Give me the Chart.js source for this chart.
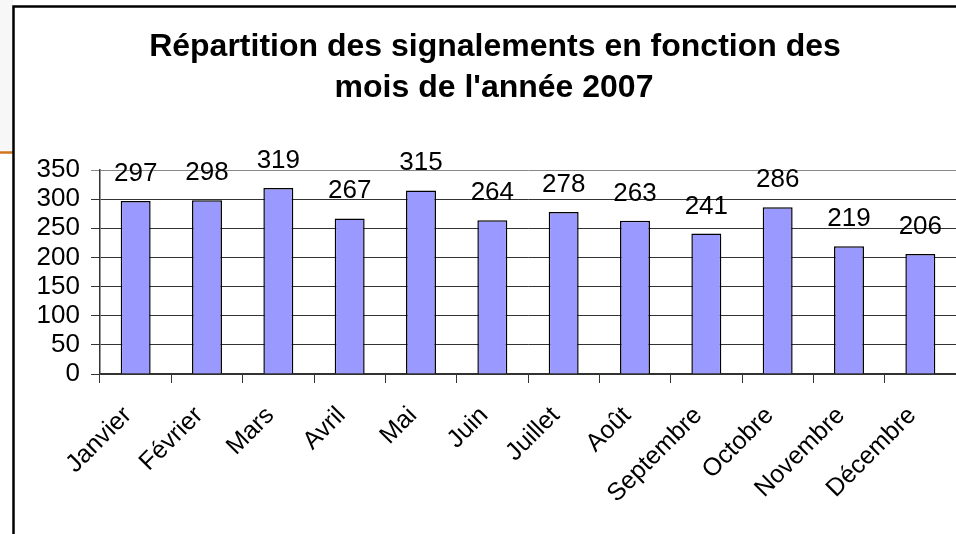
<!DOCTYPE html>
<html>
<head>
<meta charset="utf-8">
<script src="https://cdn.jsdelivr.net/npm/chart.js@4/dist/chart.umd.min.js"></script>
<style>
  html, body { margin: 0; padding: 0; background: #fff; }
  canvas { display: block; }
</style>
</head>
<body>
<canvas id="signalements" width="956" height="534"></canvas>
<script>
const MOIS = ['Janvier', 'Février', 'Mars', 'Avril', 'Mai', 'Juin', 'Juillet',
    'Août', 'Septembre', 'Octobre', 'Novembre', 'Décembre'];
const SIGNALEMENTS = [297, 298, 319, 267, 315, 264, 278, 263, 241, 286, 219, 206];
const TITRE = ['Répartition des signalements en fonction des', "mois de l'année 2007"];
const Y_MAX = 350;
const Y_STEP = 50;

const POLICE = '"Liberation Sans", Arial, sans-serif';
Chart.defaults.font.family = POLICE;
Chart.defaults.color = '#000';

// cadre de la diapo + titre (décalé comme dans Excel)
var cadre = {
    id: 'cadre',
    beforeDraw: function (chart) {
        const c = chart.ctx;
        c.save();
        c.fillStyle = '#fff';
        c.fillRect(0, 0, chart.width, chart.height);
        c.fillStyle = '#f7f7f7';
        c.fillRect(0, 0, 13, 152);
        c.strokeStyle = '#d0741e';
        c.lineWidth = 2.5;
        c.beginPath();
        c.moveTo(0, 152.5);
        c.lineTo(13, 152.5);
        c.stroke();
        c.strokeStyle = '#000';
        c.lineWidth = 2.5;
        c.beginPath();
        c.moveTo(13.5, chart.height);
        c.lineTo(13.5, 6.5);
        c.lineTo(chart.width, 6.5);
        c.stroke();

        c.fillStyle = '#000';
        c.font = 'bold 32px ' + POLICE;
        c.textAlign = 'center';
        c.textBaseline = 'alphabetic';
        c.fillText(TITRE[0], 495, 56);
        c.fillText(TITRE[1], 494, 97);
        c.restore();
    }
};

// valeurs au-dessus des barres
var valeurs = {
    id: 'valeurs',
    afterDatasetsDraw: function (chart) {
        const c = chart.ctx;
        const meta = chart.getDatasetMeta(0);
        c.save();
        c.font = '26px ' + POLICE;
        c.fillStyle = '#000';
        c.textAlign = 'center';
        c.textBaseline = 'alphabetic';
        meta.data.forEach(function (bar, i) {
            c.fillText(String(SIGNALEMENTS[i]), bar.x, bar.y - 20);
        });
        c.restore();
    }
};

var data = {
    labels: MOIS,
    datasets: [{
        data: SIGNALEMENTS,
        backgroundColor: '#9999ff',
        borderColor: '#000',
        borderWidth: 1.5,
        categoryPercentage: 1,
        barPercentage: 0.42,
    }]
};

var options = {
    responsive: false,
    animation: false,
    layout: {
        padding: { left: 0, right: 0, top: 170, bottom: 0 }
    },
    scales: {
        x: {
            offset: true,
            afterFit: function (scale) {
                scale.height = 160;
                scale.paddingLeft = 0;
                scale.paddingRight = 0;
            },
            grid: {
                offset: true,
                drawOnChartArea: false,
                drawTicks: true,
                tickLength: 9,
                color: '#333',
                lineWidth: 1,
            },
            border: { color: '#333', width: 1.5 },
            ticks: {
                minRotation: 45,
                maxRotation: 45,
                autoSkip: false,
                padding: 18,
                labelOffset: -8,
                font: { size: 25 },
                color: '#000',
            }
        },
        y: {
            min: 0,
            max: Y_MAX,
            afterFit: function (scale) { scale.width = 100; },
            grid: {
                color: function (ctx) {
                    return ctx.tick && ctx.tick.value === Y_MAX ? '#888' : '#333';
                },
                lineWidth: 1,
                tickLength: 9,
            },
            border: { color: '#333', width: 1.5 },
            ticks: {
                stepSize: Y_STEP,
                autoSkip: false,
                padding: 11,
                font: { size: 26 },
                color: '#000',
            }
        }
    },
    plugins: {
        legend: { display: false },
        tooltip: { enabled: false },
        title: { display: false }
    }
};

var ctx = document.getElementById('signalements');

var barChart = new Chart(ctx, {
    type: 'bar',
    data: data,
    options: options,
    plugins: [cadre, valeurs]
});
</script>
</body>
</html>
